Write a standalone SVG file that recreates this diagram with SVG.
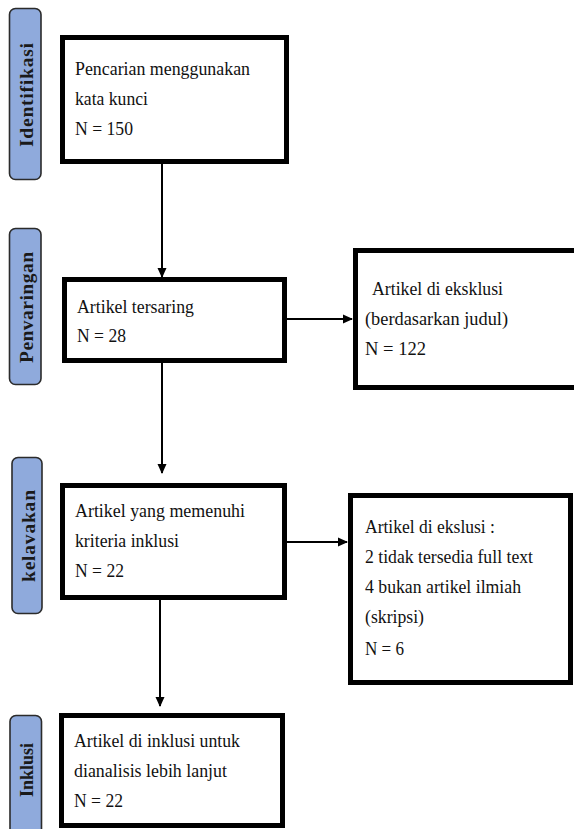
<svg xmlns="http://www.w3.org/2000/svg" width="574" height="829" viewBox="0 0 574 829">
<style>
.box{fill:#fff;stroke:#000;stroke-width:5}
.pill{fill:#8faadc;stroke:#2b2b2b;stroke-width:1.6}
.t{font-family:'Liberation Serif','DejaVu Serif',serif;font-size:19.5px;fill:#111}
.lab{font-family:'Liberation Serif','DejaVu Serif',serif;font-size:19.5px;font-weight:bold;fill:#1a1a1a}
.c{stroke:#000;stroke-width:2;fill:none}
</style>
<defs>
<marker id="ah" markerWidth="10" markerHeight="10" refX="9" refY="5" orient="auto" markerUnits="userSpaceOnUse">
<path d="M0,0.5 L10,5 L0,9.5 Z" fill="#000"/>
</marker>
</defs>
<rect width="574" height="829" fill="#fff"/>
<g id="lab-identifikasi">
<rect class="pill" x="9.5" y="8.5" width="31.5" height="171" rx="6"/>
<text class="lab" transform="translate(32.5,147) rotate(-90)" textLength="104" lengthAdjust="spacing">Identifikasi</text>
</g>
<g id="lab-penvaringan">
<rect class="pill" x="9.5" y="228.5" width="31.5" height="156" rx="6"/>
<text class="lab" transform="translate(32.5,363) rotate(-90)" textLength="111" lengthAdjust="spacing">Penvaringan</text>
</g>
<g id="lab-kelavakan">
<rect class="pill" x="12" y="457.5" width="30" height="156" rx="6"/>
<text class="lab" transform="translate(35,582) rotate(-90)" textLength="92" lengthAdjust="spacing">kelavakan</text>
</g>
<g id="lab-inklusi">
<rect class="pill" x="10" y="715.5" width="31.5" height="130" rx="6"/>
<text class="lab" transform="translate(32.5,797) rotate(-90)" textLength="54" lengthAdjust="spacingAndGlyphs">Inklusi</text>
</g>
<g id="box-identifikasi">
<rect class="box" x="62.5" y="37.5" width="224" height="124"/>
<text class="t" x="75" y="75" textLength="175" lengthAdjust="spacingAndGlyphs">Pencarian menggunakan</text>
<text class="t" x="75" y="105" textLength="73" lengthAdjust="spacingAndGlyphs">kata kunci</text>
<text class="t" x="75" y="135" textLength="58" lengthAdjust="spacingAndGlyphs">N = 150</text>
</g>
<g id="box-tersaring">
<rect class="box" x="64.5" y="279.5" width="220" height="81"/>
<text class="t" x="77" y="313" textLength="117" lengthAdjust="spacingAndGlyphs">Artikel tersaring</text>
<text class="t" x="77" y="342" textLength="49" lengthAdjust="spacingAndGlyphs">N = 28</text>
</g>
<g id="box-eksklusi1">
<rect class="box" x="355.5" y="250.5" width="230" height="137"/>
<text class="t" x="372" y="295" textLength="131" lengthAdjust="spacingAndGlyphs">Artikel di eksklusi</text>
<text class="t" x="365" y="325" textLength="143" lengthAdjust="spacingAndGlyphs">(berdasarkan judul)</text>
<text class="t" x="365" y="355" textLength="61" lengthAdjust="spacingAndGlyphs">N = 122</text>
</g>
<g id="box-kriteria">
<rect class="box" x="62.5" y="485.5" width="222" height="112"/>
<text class="t" x="75" y="517" textLength="170" lengthAdjust="spacingAndGlyphs">Artikel yang memenuhi</text>
<text class="t" x="75" y="547" textLength="104" lengthAdjust="spacingAndGlyphs">kriteria inklusi</text>
<text class="t" x="75" y="577" textLength="49" lengthAdjust="spacingAndGlyphs">N = 22</text>
</g>
<g id="box-eksklusi2">
<rect class="box" x="350.5" y="495.5" width="220" height="187"/>
<text class="t" x="365" y="533" textLength="130" lengthAdjust="spacingAndGlyphs">Artikel di ekslusi :</text>
<text class="t" x="365" y="563" textLength="168" lengthAdjust="spacingAndGlyphs">2 tidak tersedia full text</text>
<text class="t" x="365" y="593" textLength="156" lengthAdjust="spacingAndGlyphs">4 bukan artikel ilmiah</text>
<text class="t" x="365" y="623" textLength="59" lengthAdjust="spacingAndGlyphs">(skripsi)</text>
<text class="t" x="365" y="655" textLength="39" lengthAdjust="spacingAndGlyphs">N = 6</text>
</g>
<g id="box-inklusi">
<rect class="box" x="61.5" y="715.5" width="221" height="110"/>
<text class="t" x="74" y="747" textLength="166" lengthAdjust="spacingAndGlyphs">Artikel di inklusi untuk</text>
<text class="t" x="74" y="777" textLength="153" lengthAdjust="spacingAndGlyphs">dianalisis lebih lanjut</text>
<text class="t" x="74" y="807" textLength="49" lengthAdjust="spacingAndGlyphs">N = 22</text>
</g>
<g id="connectors">
<line class="c" x1="162" y1="164" x2="162" y2="277" marker-end="url(#ah)"/>
<line class="c" x1="162" y1="363" x2="162" y2="473" marker-end="url(#ah)"/>
<line class="c" x1="160" y1="600" x2="160" y2="706" marker-end="url(#ah)"/>
<line class="c" x1="287" y1="319" x2="352" y2="319" marker-end="url(#ah)"/>
<line class="c" x1="287" y1="542" x2="347" y2="542" marker-end="url(#ah)"/>
</g>
</svg>
